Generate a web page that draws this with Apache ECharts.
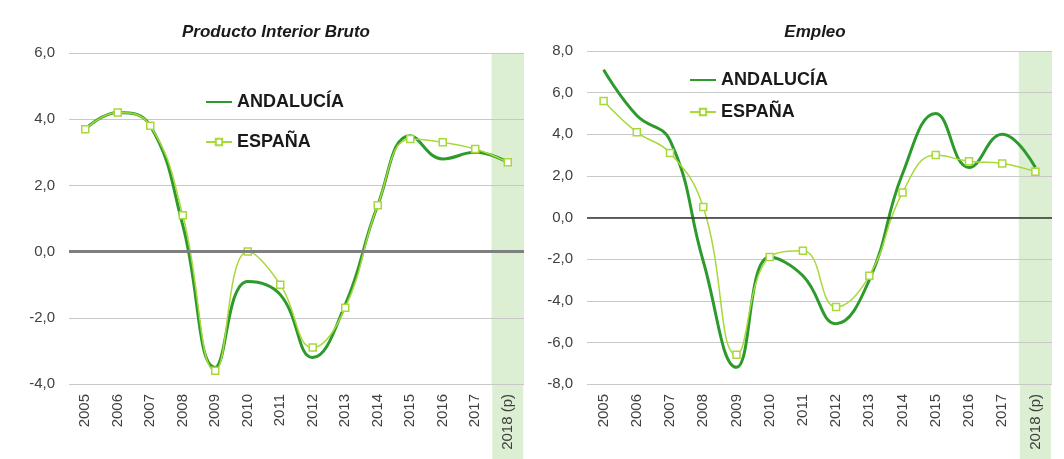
<!DOCTYPE html>
<html>
<head>
<meta charset="utf-8">
<script src="https://cdn.jsdelivr.net/npm/echarts@6/dist/echarts.min.js"></script>
<style>
  html, body { margin: 0; padding: 0; background: #fff; }
  #chart { width: 1064px; height: 459px; }
</style>
</head>
<body>
<div id="chart"></div>
<script>
// años (2018 provisional)
var years = ['2005', '2006', '2007', '2008', '2009', '2010', '2011', '2012', '2013', '2014', '2015', '2016', '2017', '2018 (p)'];

// Producto Interior Bruto, tasa de variación (%)
var pibAndalucia = [3.7, 4.2, 3.8, 0.8, -3.5, -0.9, -1.3, -3.2, -1.6, 1.4, 3.5, 2.8, 3.0, 2.7];
var pibEspana = [3.7, 4.2, 3.8, 1.1, -3.6, 0.0, -1.0, -2.9, -1.7, 1.4, 3.4, 3.3, 3.1, 2.7];

// Empleo, tasa de variación (%)
var empAndalucia = [7.1, 4.9, 3.7, -2.1, -7.2, -1.9, -2.8, -5.1, -3.0, 2.1, 5.0, 2.4, 4.0, 2.4];
var empEspana = [5.6, 4.1, 3.1, 0.5, -6.6, -1.9, -1.6, -4.3, -2.8, 1.2, 3.0, 2.7, 2.6, 2.2];

var oscuro = '#2c9b2c';
var claro = '#a8d83a';
var banda = '#dcefd3';

var chart = echarts.init(document.getElementById('chart'));

function ejeX(idx) {
    var colores = years.map(function(y, i) { return i === years.length - 1 ? banda : 'rgba(0,0,0,0)'; });
    return {
        type: 'category',
        gridIndex: idx,
        data: years,
        boundaryGap: true,
        z: 0,
        axisLine: { show: false },
        axisTick: { show: false },
        splitArea: { show: true, interval: 0, areaStyle: { color: colores } },
        axisLabel: {
            interval: 0,
            rotate: 90,
            margin: 0,
            color: '#404040',
            fontSize: 15,
            fontFamily: 'Liberation Sans, Arial, sans-serif',
            formatter: function(v) {
                return v === '2018 (p)' ? '{hl|' + v + '}' : '{n|' + v + '}';
            },
            rich: {
                n: { fontSize: 15, color: '#404040', padding: [0, 10, 0, 0] },
                hl: { fontSize: 15, color: '#404040', backgroundColor: banda, lineHeight: 17, padding: [8, 10, 8, 30] }
            }
        }
    };
}

function ejeY(idx, min, max) {
    return {
        type: 'value',
        gridIndex: idx,
        min: min,
        max: max,
        interval: 2,
        z: 1,
        axisLine: { show: false },
        axisTick: { show: false },
        splitLine: { lineStyle: { color: '#c8c8c8', width: 1 } },
        axisLabel: {
            margin: 14,
            color: '#404040',
            fontSize: 15,
            fontFamily: 'Liberation Sans, Arial, sans-serif',
            formatter: function(v) { return v.toFixed(1).replace('.', ','); }
        }
    };
}

function serieOscura(idx, datos, ceroColor, ceroAncho) {
    return {
        name: 'ANDALUCÍA',
        type: 'line',
        xAxisIndex: idx,
        yAxisIndex: idx,
        data: datos,
        smooth: 0.45,
        showSymbol: false,
        symbol: 'none',
        lineStyle: { color: oscuro, width: 3 },
        itemStyle: { color: oscuro },
        markLine: {
            silent: true,
            symbol: 'none',
            label: { show: false },
            lineStyle: { color: ceroColor, width: ceroAncho, type: 'solid' },
            data: [{ yAxis: 0 }]
        },
        z: 3
    };
}

function serieClara(idx, datos) {
    return {
        name: 'ESPAÑA',
        type: 'line',
        xAxisIndex: idx,
        yAxisIndex: idx,
        data: datos,
        smooth: 0.45,
        symbol: 'rect',
        symbolSize: 7,
        lineStyle: { color: claro, width: 1.5 },
        itemStyle: { color: '#ffffff', borderColor: claro, borderWidth: 1.5 },
        z: 4
    };
}

function leyenda(left, top, gap) {
    return {
        data: [
            { name: 'ANDALUCÍA', itemStyle: { opacity: 0 } },
            { name: 'ESPAÑA' }
        ],
        orient: 'vertical',
        left: left,
        top: top,
        itemGap: gap,
        itemWidth: 26,
        itemHeight: 8,
        textStyle: { color: '#1a1a1a', fontSize: 18, fontWeight: 'bold', fontFamily: 'Liberation Sans, Arial, sans-serif' }
    };
}

var tituloEstilo = { color: '#1a1a1a', fontSize: 17, fontWeight: 'bold', fontStyle: 'italic', fontFamily: 'Liberation Sans, Arial, sans-serif' };

option = {
    backgroundColor: '#ffffff',
    animation: false,
    title: [
        { text: 'Producto Interior Bruto', left: 271, top: 19, textAlign: 'center', textStyle: tituloEstilo },
        { text: 'Empleo', left: 810, top: 19, textAlign: 'center', textStyle: tituloEstilo }
    ],
    legend: [leyenda(200, 88, 22), leyenda(684, 66, 14)],
    grid: [
        { left: 69, right: 540, top: 53, bottom: 75, outerBoundsMode: 'none' },
        { left: 587, right: 12, top: 51, bottom: 75, outerBoundsMode: 'none' }
    ],
    xAxis: [ejeX(0), ejeX(1)],
    yAxis: [ejeY(0, -4, 6), ejeY(1, -8, 8)],
    series: [
        serieOscura(0, pibAndalucia, '#7f7f7f', 3),
        serieClara(0, pibEspana),
        serieOscura(1, empAndalucia, '#333333', 1.5),
        serieClara(1, empEspana)
    ]
};
chart.setOption(option);

window.onresize = function() {
    chart.resize();
};
</script>
</body>
</html>
